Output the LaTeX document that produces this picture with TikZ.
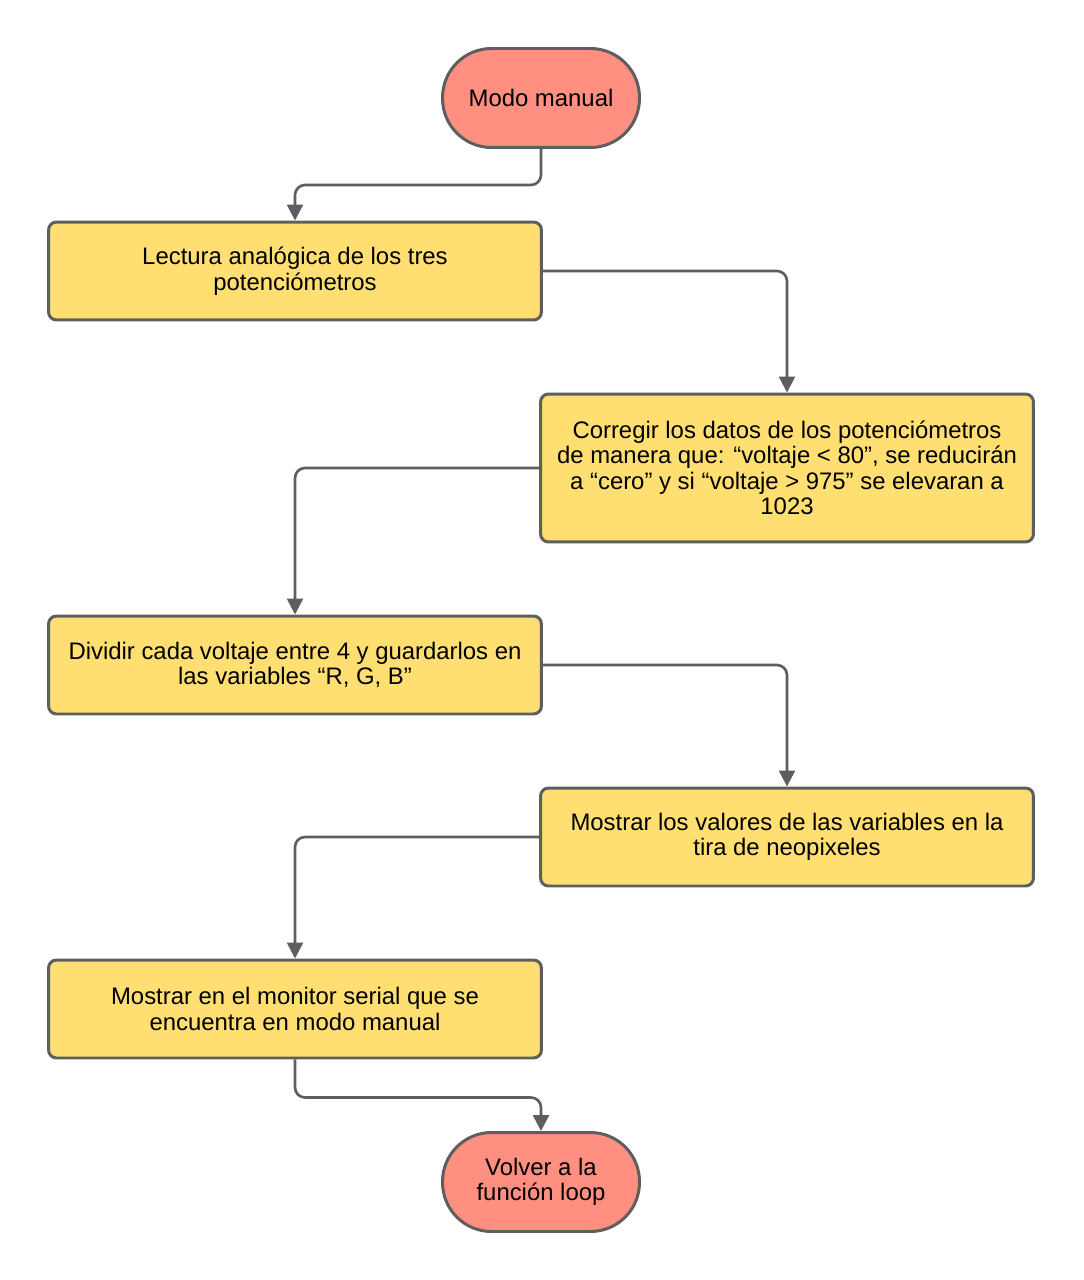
\documentclass[tikz,border=0pt]{standalone}
\usepackage{fontspec}
\setmainfont{Liberation Sans}
\usepackage{xcolor}
\usetikzlibrary{positioning, arrows.meta}

\definecolor{termfill}{HTML}{FF8F80}
\definecolor{procfill}{HTML}{FFDF71}
\definecolor{linegray}{HTML}{5E5E5E}

\begin{document}
\begin{tikzpicture}[
            x=0.02cm, y=-0.02cm,
            terminal/.style={draw=linegray, fill=termfill, line width=1.7pt, rounded corners=0.98cm,
                minimum width=3.94cm, minimum height=1.98cm, align=center,
                font=\fontsize{13.6}{14.5}\selectfont},
            process/.style={draw=linegray, fill=procfill, line width=1.7pt, rounded corners=0.16cm,
                minimum width=9.86cm, minimum height=1.96cm, align=center,
                font=\fontsize{13.6}{14.5}\selectfont},
            flow/.style={draw=linegray, line width=1.5pt, rounded corners=0.2cm,
                -{Triangle[width=0.32cm, length=0.32cm]}},
        ]
            \useasboundingbox (0,0) rectangle (1083,1280);
            % nodes
            \node[terminal] (inicio) at (541, 98) {Modo manual};
            \node[process] (lectura) at (295, 271) {Lectura analógica de los tres\\potenciómetros};
            \node[process, minimum height=2.96cm] (corregir) at (787, 468)
                {Corregir los datos de los potenciómetros\\de manera que: “voltaje < 80”, se reducirán\\a “cero” y si “voltaje > 975” se elevaran a\\1023};
            \node[process] (dividir) at (295, 665) {Dividir cada voltaje entre 4 y guardarlos en\\las variables “R, G, B”};
            \node[process] (mostrar) at (787, 837) {Mostrar los valores de las variables en la\\tira de neopixeles};
            \node[process] (monitor) at (295, 1009) {Mostrar en el monitor serial que se\\encuentra en modo manual};
            \node[terminal] (fin) at (541, 1182) {Volver a la\\función loop};

            % connectors
            \draw[flow] (inicio.south) -- ++(0, 36) -| (lectura.north);
            \draw[flow] (lectura.east) -| (corregir.north);
            \draw[flow] (corregir.west) -| (dividir.north);
            \draw[flow] (dividir.east) -| (mostrar.north);
            \draw[flow] (mostrar.west) -| (monitor.north);
            \draw[flow] (monitor.south) -- ++(0, 38) -| (fin.north);
        \end{tikzpicture}
\end{document}
